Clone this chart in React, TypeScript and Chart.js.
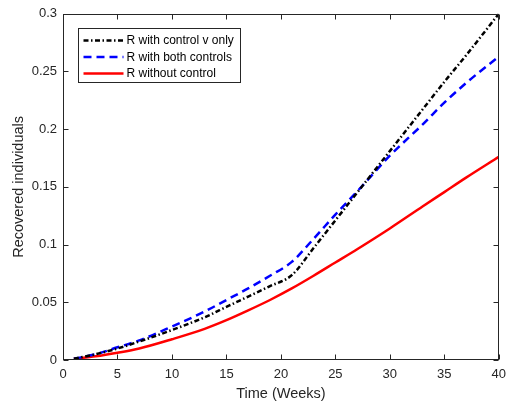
import React, { useEffect, useRef } from "react";
import { Chart, registerables } from "chart.js";

Chart.register(...registerables);

const weeks = [1, 3, 5, 7, 10, 13, 15, 17, 19, 21, 23, 25, 27, 30, 33, 35, 37, 40];
const rControlVOnly = [0.001, 0.005, 0.010, 0.016, 0.026, 0.037, 0.046, 0.055, 0.064, 0.0735, 0.097, 0.121, 0.145, 0.181, 0.217, 0.241, 0.264, 0.300];
const rBothControls = [0.001, 0.005, 0.011, 0.017, 0.029, 0.042, 0.052, 0.062, 0.073, 0.085, 0.105, 0.126, 0.146, 0.177, 0.204, 0.223, 0.240, 0.263];
const rWithoutControl = [0.001, 0.0032, 0.0063, 0.010, 0.018, 0.027, 0.0345, 0.043, 0.052, 0.062, 0.073, 0.0845, 0.096, 0.114, 0.133, 0.1455, 0.158, 0.176];

const seriesLabels = ["R with control v only", "R with both controls", "R without control"];
const xTicks = [0, 5, 10, 15, 20, 25, 30, 35, 40];
const yTicks = [0, 0.05, 0.1, 0.15, 0.2, 0.25, 0.3];
const yTickLabels = ["0", "0.05", "0.1", "0.15", "0.2", "0.25", "0.3"];
const xTitle = "Time (Weeks)";
const yTitle = "Recovered individuals";

const FONT = "'Liberation Sans', Arial, Helvetica, sans-serif";
const AXIS_COLOR = "#262626";

const framePlugin = {
  id: "matlabFrame",
  afterDatasetsDraw(chart: any) {
    const { ctx, chartArea: a, scales } = chart;
    const x = scales.x;
    const y = scales.y;
    ctx.save();
    ctx.strokeStyle = AXIS_COLOR;
    ctx.lineWidth = 1;
    const L = Math.round(a.left) + 0.5;
    const R = Math.round(a.right) - 0.5;
    const T = Math.round(a.top) + 0.5;
    const B = Math.round(a.bottom) - 0.5;
    ctx.beginPath();
    for (const v of xTicks) {
      const px = Math.round(x.getPixelForValue(v)) + 0.5;
      ctx.moveTo(px, B);
      ctx.lineTo(px, B - 5);
      ctx.moveTo(px, T);
      ctx.lineTo(px, T + 5);
    }
    for (const v of yTicks) {
      const py = Math.round(y.getPixelForValue(v)) + 0.5;
      ctx.moveTo(L, py);
      ctx.lineTo(L + 5, py);
      ctx.moveTo(R, py);
      ctx.lineTo(R - 5, py);
    }
    ctx.stroke();
    ctx.strokeRect(L, T, R - L, B - T);

    // legend
    const bx = Math.round(a.left + 15) + 0.5;
    const by = Math.round(a.top + 14) + 0.5;
    const bw = 162;
    const bh = 54;
    ctx.fillStyle = "#ffffff";
    ctx.fillRect(bx, by, bw, bh);
    ctx.strokeStyle = AXIS_COLOR;
    ctx.lineWidth = 1;
    ctx.strokeRect(bx, by, bw, bh);
    const rows = [12, 28.5, 45];
    ctx.font = `12px ${FONT}`;
    ctx.textBaseline = "middle";
    ctx.textAlign = "left";
    chart.data.datasets.forEach((ds: any, i: number) => {
      const ry = by + rows[i];
      ctx.save();
      ctx.strokeStyle = ds.borderColor;
      ctx.lineWidth = ds.borderWidth;
      ctx.setLineDash(ds.borderDash || []);
      ctx.beginPath();
      ctx.moveTo(bx + 5, ry);
      ctx.lineTo(bx + 45, ry);
      ctx.stroke();
      ctx.restore();
      ctx.fillStyle = "#000000";
      ctx.fillText(ds.label, bx + 48, ry + 0.5);
    });
    ctx.restore();
  },
};

export default function App() {
  const ref = useRef<HTMLCanvasElement>(null);
  useEffect(() => {
    document.body.style.margin = "0";
    const canvas = ref.current;
    if (!canvas) return;
    const pts = (arr: number[]) => weeks.map((w, i) => ({ x: w, y: arr[i] }));
    const chart = new Chart(canvas, {
      type: "line",
      data: {
        datasets: [
          {
            label: seriesLabels[0],
            data: pts(rControlVOnly),
            borderColor: "#000000",
            borderWidth: 2.5,
            borderDash: [5, 2.5, 1.5, 2.5],
            pointRadius: 0,
            cubicInterpolationMode: "monotone",
            fill: false,
          },
          {
            label: seriesLabels[1],
            data: pts(rBothControls),
            borderColor: "#0000ff",
            borderWidth: 2.5,
            borderDash: [8, 5],
            pointRadius: 0,
            cubicInterpolationMode: "monotone",
            fill: false,
          },
          {
            label: seriesLabels[2],
            data: pts(rWithoutControl),
            borderColor: "#ff0000",
            borderWidth: 2.5,
            pointRadius: 0,
            cubicInterpolationMode: "monotone",
            fill: false,
          },
        ],
      },
      options: {
        responsive: false,
        animation: false,
        events: [],
        layout: { padding: { top: 13.5, right: 10, left: 0, bottom: 0 } },
        plugins: {
          legend: { display: false },
          tooltip: { enabled: false },
          title: { display: false },
        },
        scales: {
          x: {
            type: "linear",
            min: 0,
            max: 40,
            afterFit: (s: any) => {
              s.height = 47;
            },
            afterBuildTicks: (s: any) => {
              s.ticks = xTicks.map((v) => ({ value: v }));
            },
            grid: { display: false, drawTicks: false },
            border: { display: false },
            ticks: {
              autoSkip: false,
              maxRotation: 0,
              padding: 7,
              color: AXIS_COLOR,
              font: { family: FONT, size: 13 },
              callback: (v: any) => String(v),
            },
            title: {
              display: true,
              text: xTitle,
              color: AXIS_COLOR,
              font: { family: FONT, size: 14.5 },
              padding: { top: 0, bottom: 4 },
            },
          },
          y: {
            type: "linear",
            min: 0,
            max: 0.3,
            afterFit: (s: any) => {
              s.width = 63;
            },
            afterBuildTicks: (s: any) => {
              s.ticks = yTicks.map((v) => ({ value: v }));
            },
            grid: { display: false, drawTicks: false },
            border: { display: false },
            ticks: {
              autoSkip: false,
              padding: 6,
              color: AXIS_COLOR,
              font: { family: FONT, size: 13 },
              callback: (v: any) => {
                const i = yTicks.findIndex((t) => Math.abs(t - v) < 1e-9);
                return i >= 0 ? yTickLabels[i] : "";
              },
            },
            title: {
              display: true,
              text: yTitle,
              color: AXIS_COLOR,
              font: { family: FONT, size: 14.5 },
              padding: { top: 10, bottom: 0 },
            },
          },
        },
      },
      plugins: [framePlugin],
    } as any);
    return () => chart.destroy();
  }, []);
  return <canvas ref={ref} width={513} height={407} style={{ display: "block" }} />;
}
